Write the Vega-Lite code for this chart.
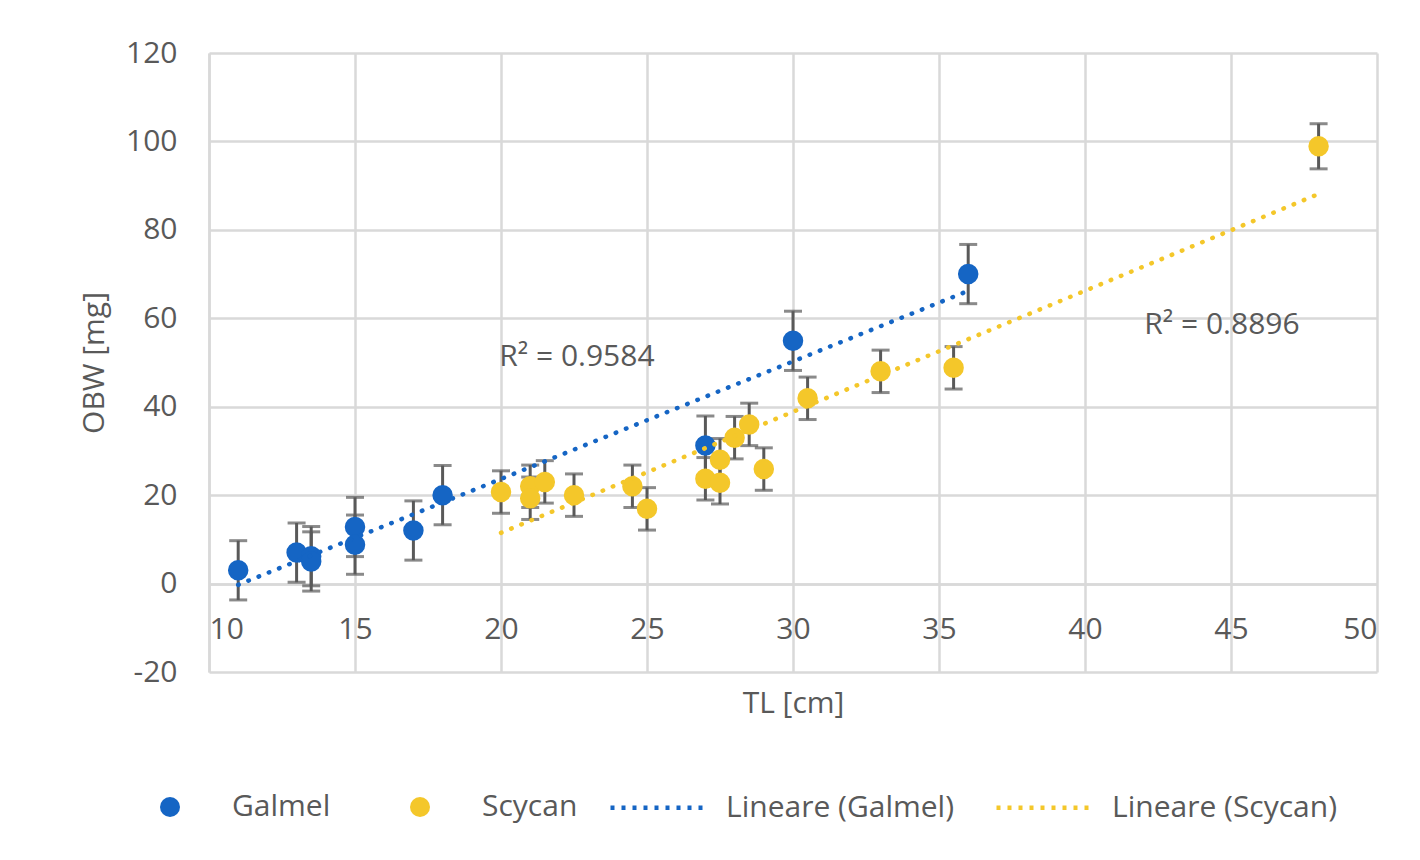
{
  "$schema": "https://vega.github.io/schema/vega-lite/v6.json",
  "width": 1420,
  "height": 860,
  "autosize": {"type": "fit", "contains": "padding"},
  "padding": {"left": 79, "top": 38, "right": 43, "bottom": 142},
  "background": "white",
  "data": {
    "values": [
      {"series": "Galmel", "tl": 11, "obw": 3, "err": 6.7},
      {"series": "Galmel", "tl": 13, "obw": 7, "err": 6.7},
      {"series": "Galmel", "tl": 13.5, "obw": 6.2, "err": 6.7},
      {"series": "Galmel", "tl": 13.5, "obw": 5, "err": 6.7},
      {"series": "Galmel", "tl": 15, "obw": 12.8, "err": 6.7},
      {"series": "Galmel", "tl": 15, "obw": 8.8, "err": 6.7},
      {"series": "Galmel", "tl": 17, "obw": 12, "err": 6.7},
      {"series": "Galmel", "tl": 18, "obw": 20, "err": 6.7},
      {"series": "Galmel", "tl": 27, "obw": 31.2, "err": 6.7},
      {"series": "Galmel", "tl": 30, "obw": 54.9, "err": 6.7},
      {"series": "Galmel", "tl": 36, "obw": 70, "err": 6.7},
      {"series": "Scycan", "tl": 20, "obw": 20.7, "err": 4.8},
      {"series": "Scycan", "tl": 21, "obw": 22, "err": 4.8},
      {"series": "Scycan", "tl": 21, "obw": 19.3, "err": 4.8},
      {"series": "Scycan", "tl": 21.5, "obw": 23, "err": 4.8},
      {"series": "Scycan", "tl": 22.5, "obw": 20, "err": 4.8},
      {"series": "Scycan", "tl": 24.5, "obw": 22, "err": 4.8},
      {"series": "Scycan", "tl": 25, "obw": 16.9, "err": 4.8},
      {"series": "Scycan", "tl": 27, "obw": 23.7, "err": 4.8},
      {"series": "Scycan", "tl": 27.5, "obw": 22.8, "err": 4.8},
      {"series": "Scycan", "tl": 27.5, "obw": 28, "err": 4.8},
      {"series": "Scycan", "tl": 28, "obw": 33, "err": 4.8},
      {"series": "Scycan", "tl": 28.5, "obw": 36, "err": 4.8},
      {"series": "Scycan", "tl": 29, "obw": 25.9, "err": 4.8},
      {"series": "Scycan", "tl": 30.5, "obw": 41.9, "err": 4.8},
      {"series": "Scycan", "tl": 33, "obw": 48, "err": 4.8},
      {"series": "Scycan", "tl": 35.5, "obw": 48.8, "err": 4.8},
      {"series": "Scycan", "tl": 48, "obw": 98.9, "err": 5.1}
    ]
  },
  "encoding": {
    "x": {
      "field": "tl", "type": "quantitative",
      "scale": {"domain": [10, 50], "nice": false, "zero": false},
      "axis": {
        "title": "TL [cm]", "values": [10, 15, 20, 25, 30, 35, 40, 45, 50],
        "offset": -88, "labelPadding": 30, "titlePadding": 44
      }
    },
    "y": {
      "field": "obw", "type": "quantitative",
      "scale": {"domain": [-20, 120], "nice": false, "zero": false},
      "axis": {
        "title": "OBW [mg]", "values": [-20, 0, 20, 40, 60, 80, 100, 120],
        "labelPadding": 32, "titlePadding": 16,
        "labelExpr": "replace(datum.label, '\u2212', '-')"
      }
    }
  },
  "layer": [
    {
      "mark": {
        "type": "errorbar", "color": "#595959",
        "ticks": {"size": 18, "thickness": 3, "color": "#595959"},
        "rule": {"strokeWidth": 3, "color": "#595959"}
      },
      "encoding": {"yError": {"field": "err"}}
    },
    {
      "mark": {"type": "circle", "size": 420, "opacity": 1},
      "encoding": {
        "color": {
          "field": "series", "type": "nominal",
          "scale": {"domain": ["Galmel", "Scycan"], "range": ["#1565c4", "#f4c72a"]},
          "legend": {
            "title": null, "orient": "none", "direction": "horizontal",
            "legendX": -92, "legendY": 739,
            "symbolType": "circle", "symbolSize": 400, "symbolOffset": 38, "labelOffset": 47,
            "columnPadding": 36
          }
        }
      }
    },
    {
      "transform": [{"regression": "obw", "on": "tl", "groupby": ["series"]}],
      "mark": {"type": "line", "strokeWidth": 4.5, "strokeDash": [0.5, 10.5], "strokeCap": "round"},
      "encoding": {
        "stroke": {
          "field": "series", "type": "nominal",
          "scale": {"domain": ["Galmel", "Scycan"], "range": ["#1565c4", "#f4c72a"]},
          "legend": {
            "title": null, "orient": "none", "direction": "horizontal",
            "legendX": 399, "legendY": 704,
            "labelExpr": "'Lineare (' + datum.label + ')'",
            "symbolType": "stroke", "symbolSize": 9216, "symbolStrokeWidth": 4.5,
            "symbolDash": [4, 7], "symbolOffset": 0, "labelOffset": 17,
            "columnPadding": 33
          }
        }
      }
    },
    {
      "transform": [{"filter": "datum.tl === 48"}],
      "mark": {"type": "text", "text": "R\u00b2 = 0.9584", "fontSize": 30, "color": "#595959", "align": "center", "baseline": "middle"},
      "encoding": {"x": {"datum": 22.6}, "y": {"datum": 51.2}}
    },
    {
      "transform": [{"filter": "datum.tl === 48"}],
      "mark": {"type": "text", "text": "R\u00b2 = 0.8896", "fontSize": 30, "color": "#595959", "align": "center", "baseline": "middle"},
      "encoding": {"x": {"datum": 44.69}, "y": {"datum": 58.5}}
    }
  ],
  "resolve": {"legend": {"color": "independent", "stroke": "independent"}},
  "config": {
    "font": "Open Sans",
    "view": {"stroke": null},
    "axis": {
      "labelFontSize": 30, "labelColor": "#595959", "labelFont": "Open Sans",
      "titleFontSize": 30, "titleColor": "#595959", "titleFontWeight": "normal", "titleFont": "Open Sans",
      "gridColor": "#d9d9d9", "gridWidth": 2.5,
      "domainColor": "#d9d9d9", "domainWidth": 2.5,
      "ticks": false, "tickSize": 0
    },
    "legend": {
      "labelFontSize": 30, "labelColor": "#595959", "labelFont": "Open Sans", "labelLimit": 400
    }
  }
}
